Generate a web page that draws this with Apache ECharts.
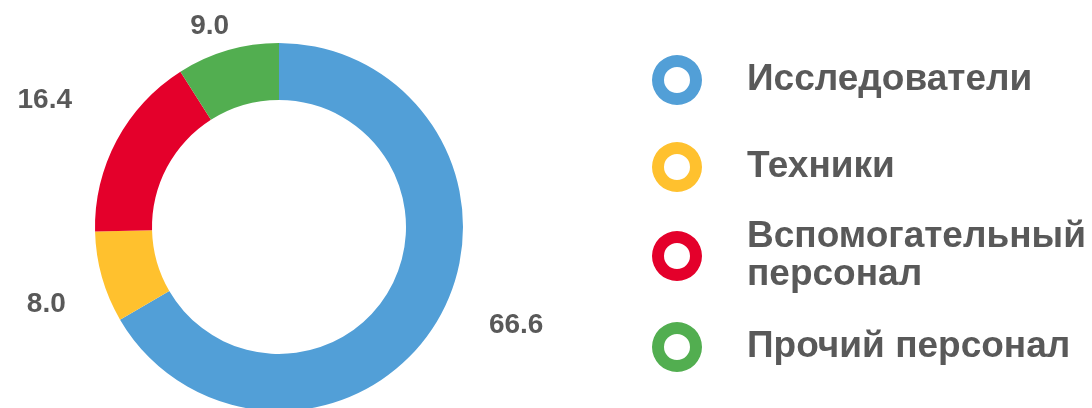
<!DOCTYPE html>
<html>
<head>
<meta charset="utf-8">
<title>Структура персонала</title>
<script src="https://cdn.jsdelivr.net/npm/echarts@6/dist/echarts.min.js"></script>
<style>
    html, body { margin: 0; padding: 0; background: #fff; }
    #chart { width: 1092px; height: 408px; }
</style>
</head>
<body>
<div id="chart"></div>
<script>
var categories = ['Исследователи', 'Техники', 'Вспомогательный\nперсонал', 'Прочий персонал'];
var shares = [66.6, 8.0, 16.4, 9.0];
var colors = ['#529fd7', '#ffc12e', '#e4002b', '#52ae50'];

var textColor = '#595959';
var fontFamily = "'Liberation Sans', Arial, sans-serif";
// ring shaped legend marker
var ringIcon = 'path://M25 0A25 25 0 1 1 25 50A25 25 0 1 1 25 0ZM25 12A13 13 0 1 0 25 38A13 13 0 1 0 25 12Z';
var legendTops = [55, 142, 214, 322];
// small nudges of the value labels away from the default outside spot
var labelNudge = [[18, -3], [-2, 22], [-12, -31], [22, -5]];

var chart = echarts.init(document.getElementById('chart'));

var legends = categories.map(function (name, i) {
    return {
        data: [name],
        orient: 'vertical',
        left: 652,
        top: legendTops[i],
        padding: 0,
        icon: ringIcon,
        itemWidth: 130,
        itemHeight: 50,
        selectedMode: false,
        itemStyle: { borderWidth: 0 },
        textStyle: {
            color: textColor,
            fontSize: 37,
            fontWeight: 'bold',
            lineHeight: 38,
            padding: [8, 0, 0, 0],
            fontFamily: fontFamily
        }
    };
});

var option = {
    animation: false,
    color: colors,
    legend: legends,
    series: [
        {
            type: 'pie',
            center: [279, 227],
            radius: [127, 184],
            startAngle: 90,
            clockwise: true,
            avoidLabelOverlap: false,
            itemStyle: { borderWidth: 0 },
            label: {
                show: true,
                position: 'outside',
                color: textColor,
                fontSize: 28,
                fontWeight: 'bold',
                fontFamily: fontFamily,
                formatter: function (p) {
                    return p.value.toFixed(1);
                }
            },
            labelLine: { show: false, length: 20, length2: 10 },
            labelLayout: function (p) {
                var n = labelNudge[p.dataIndex];
                return { dx: n[0], dy: n[1] };
            },
            emphasis: { disabled: true },
            data: categories.map(function (name, i) {
                return { name: name, value: shares[i] };
            })
        }
    ]
};

chart.setOption(option);
</script>
</body>
</html>
